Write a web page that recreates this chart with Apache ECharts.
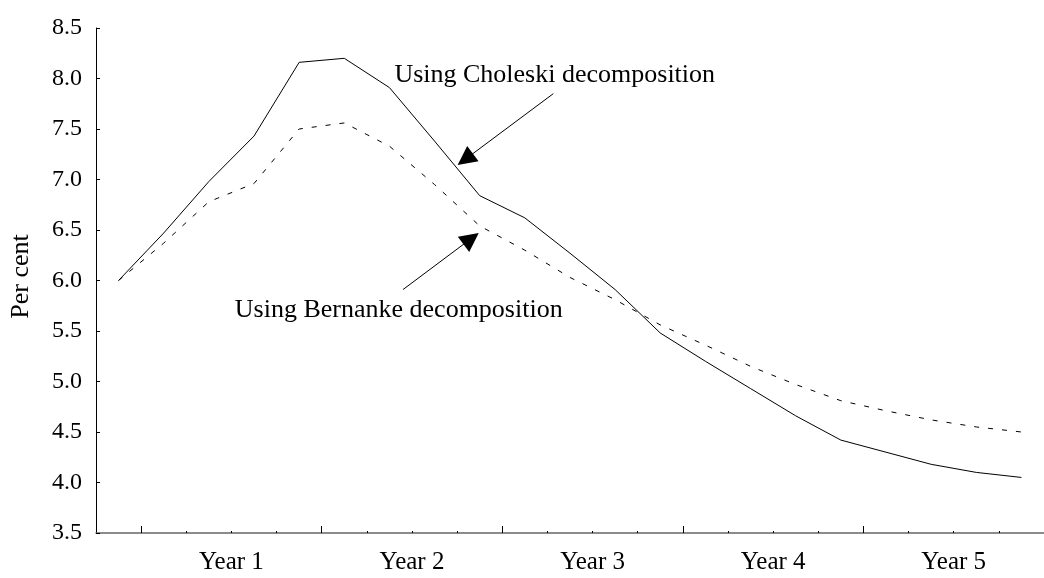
<!DOCTYPE html>
<html>
<head>
<meta charset="utf-8">
<script src="https://cdn.jsdelivr.net/npm/echarts@6/dist/echarts.min.js"></script>
<style>
  html, body { margin: 0; padding: 0; background: #fff; }
  #main { width: 1044px; height: 578px; }
</style>
</head>
<body>
<div id="main"></div>
<script>
// quarter 0 = impact, then 4 quarters per year
const quarters = [0, 1, 2, 3, 4, 5, 6, 7, 8, 9, 10, 11, 12, 13, 14, 15, 16, 17, 18, 19, 20];
const choleski = [6.00, 6.47, 6.98, 7.43, 8.16, 8.20, 7.91, 7.38, 6.84, 6.62, 6.27,
                  5.91, 5.48, 5.20, 4.93, 4.66, 4.42, 4.30, 4.18, 4.10, 4.05];
const bernanke = [6.00, 6.37, 6.78, 6.96, 7.50, 7.56, 7.33, 6.95, 6.54, 6.30, 6.03,
                  5.81, 5.56, 5.36, 5.15, 4.97, 4.81, 4.71, 4.62, 4.55, 4.50];
const yearLabels = ['Year 1', 'Year 2', 'Year 3', 'Year 4', 'Year 5'];

// annotation arrows [from, head centre] in data units
const choleskiArrow = [[9.63, 7.85], [7.68, 7.20]];
const bernankeArrow = [[6.30, 5.91], [7.81, 6.415]];
const choleskiNote = [6.11, 8.035];
const bernankeNote = [2.575, 5.71];

const FONT = '"Liberation Serif", "Times New Roman", serif';

const chart = echarts.init(document.getElementById('main'));

const bounds = quarters.slice(1).map(q => q - 0.5);
const majorTicks = bounds.filter((b, i) => i % 4 === 0);
const yearPos = majorTicks.map(b => b + 2);

const toPairs = arr => quarters.map((q, i) => [q, arr[i]]);

const arrowLine = {
  silent: true,
  animation: false,
  symbol: ['none', 'triangle'],
  symbolSize: 19,
  label: { show: false },
  lineStyle: { color: '#000', width: 1, type: 'solid' },
  itemStyle: { color: '#000' },
  emphasis: { disabled: true }
};

const option = {
  animation: false,
  backgroundColor: '#fff',
  grid: { left: 96, right: -11, top: 28, bottom: 45 },
  xAxis: [
    {
      type: 'value',
      min: -0.5,
      max: 20.5,
      axisLine: { show: true, onZero: false, lineStyle: { color: '#666', width: 1.5 } },
      axisTick: { show: true, inside: true, length: 2, customValues: bounds, lineStyle: { color: '#000' } },
      axisLabel: {
        show: true,
        customValues: yearPos,
        margin: 17,
        color: '#000',
        fontFamily: FONT,
        fontSize: 25,
        formatter: v => yearLabels[yearPos.indexOf(v)] || ''
      },
      splitLine: { show: false }
    },
    {
      type: 'value',
      position: 'bottom',
      min: -0.5,
      max: 20.5,
      axisLine: { show: false, onZero: false },
      axisTick: { show: true, inside: true, length: 7, customValues: majorTicks, lineStyle: { color: '#000' } },
      axisLabel: { show: false },
      splitLine: { show: false }
    }
  ],
  yAxis: {
    type: 'value',
    min: 3.5,
    max: 8.5,
    interval: 0.5,
    name: 'Per cent',
    nameLocation: 'middle',
    nameGap: 62,
    nameTextStyle: { color: '#000', fontFamily: FONT, fontSize: 26, padding: [0, 0, 0, 8] },
    axisLine: { show: true, onZero: false, lineStyle: { color: '#000', width: 1 } },
    axisTick: { show: true, inside: true, length: 4, lineStyle: { color: '#000' } },
    axisLabel: {
      color: '#000',
      fontFamily: FONT,
      fontSize: 24,
      margin: 14,
      formatter: v => v.toFixed(1)
    },
    splitLine: { show: false }
  },
  series: [
    {
      name: 'Choleski',
      type: 'line',
      data: toPairs(choleski),
      showSymbol: false,
      symbol: 'none',
      lineStyle: { color: '#000', width: 1 },
      markLine: Object.assign({}, arrowLine, {
        data: [[{ coord: choleskiArrow[0] }, { coord: choleskiArrow[1] }]]
      })
    },
    {
      name: 'Bernanke',
      type: 'line',
      data: toPairs(bernanke),
      showSymbol: false,
      symbol: 'none',
      lineStyle: { color: '#000', width: 1, type: [5, 9] },
      markLine: Object.assign({}, arrowLine, {
        data: [[{ coord: bernankeArrow[0] }, { coord: bernankeArrow[1] }]]
      })
    }
  ]
};

chart.setOption(option);

const p1 = chart.convertToPixel({ gridIndex: 0 }, choleskiNote);
const p2 = chart.convertToPixel({ gridIndex: 0 }, bernankeNote);
chart.setOption({
  graphic: [
    {
      type: 'text', x: p1[0], y: p1[1],
      style: { text: 'Using Choleski decomposition', fill: '#000', font: '26px ' + FONT, textVerticalAlign: 'middle' }
    },
    {
      type: 'text', x: p2[0], y: p2[1],
      style: { text: 'Using Bernanke decomposition', fill: '#000', font: '26px ' + FONT, textVerticalAlign: 'middle' }
    }
  ]
});
</script>
</body>
</html>
